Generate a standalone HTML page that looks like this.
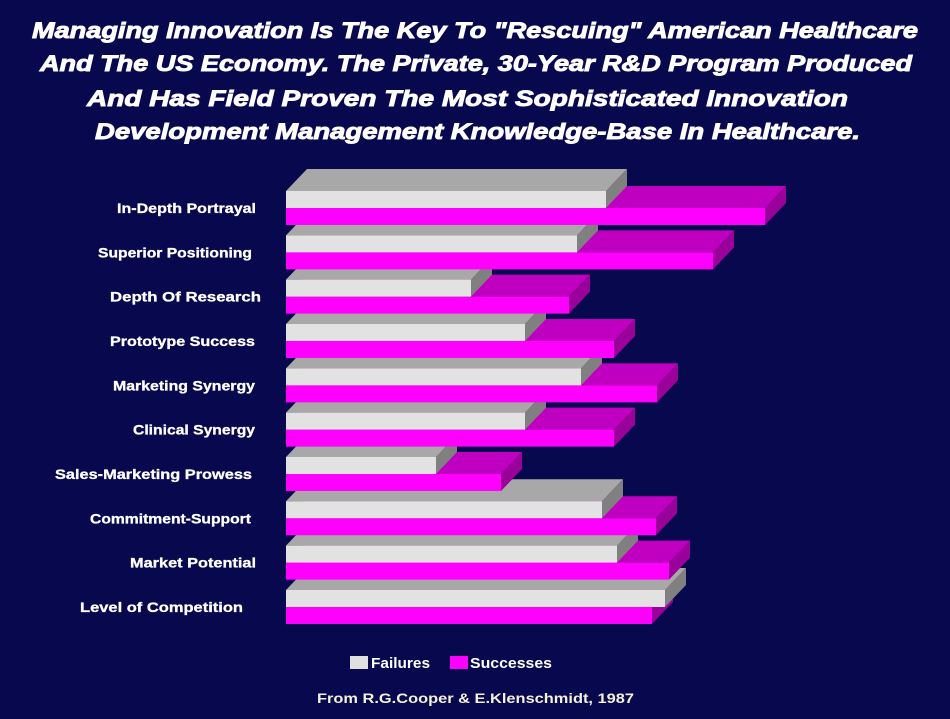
<!DOCTYPE html>
<html><head><meta charset="utf-8"><style>
html,body{margin:0;padding:0;background:#08084e;}
svg{display:block}
</style></head><body>
<svg width="950" height="719" viewBox="0 0 950 719" xmlns="http://www.w3.org/2000/svg">
<rect width="950" height="719" fill="#08084e"/>
<g font-family="Liberation Sans, Arial, sans-serif" font-weight="bold" font-style="italic" font-size="22" fill="#fff" stroke="#fff" stroke-width="0.9">
<text x="32" y="38" textLength="886" lengthAdjust="spacingAndGlyphs">Managing Innovation Is The Key To "Rescuing" American Healthcare</text>
<text x="40" y="71" textLength="872" lengthAdjust="spacingAndGlyphs">And The US Economy. The Private, 30-Year R&amp;D Program Produced</text>
<text x="87" y="106" textLength="761" lengthAdjust="spacingAndGlyphs">And Has Field Proven The Most Sophisticated Innovation</text>
<text x="95" y="139" textLength="765" lengthAdjust="spacingAndGlyphs">Development Management Knowledge-Base In Healthcare.</text>
</g>
<g id="bars"></g>
<g font-family="Liberation Sans, Arial, sans-serif" font-weight="bold" font-size="13.5" fill="#fff" stroke="#fff" stroke-width="0.3" id="labels"></g>
<rect x="350" y="656" width="18" height="13" fill="#e0e0e0"/>
<text x="371" y="668" font-family="Liberation Sans, Arial, sans-serif" font-weight="bold" font-size="15" fill="#fff" textLength="59" lengthAdjust="spacingAndGlyphs">Failures</text>
<rect x="450" y="656" width="18" height="13" fill="#ff00ff"/>
<text x="470" y="668" font-family="Liberation Sans, Arial, sans-serif" font-weight="bold" font-size="15" fill="#fff" textLength="82" lengthAdjust="spacingAndGlyphs">Successes</text>
<text x="317" y="703" font-family="Liberation Sans, Arial, sans-serif" font-weight="bold" font-size="14" fill="#f4f0dc" textLength="317" lengthAdjust="spacingAndGlyphs">From R.G.Cooper &amp; E.Klenschmidt, 1987</text>
<script>
var g=[606,577,471,525,581,525,436,602,617,665];
var m=[765,713,569,614,657,614,501,656,669,652];
var L=["In-Depth Portrayal","Superior Positioning","Depth Of Research","Prototype Success","Marketing Synergy","Clinical Synergy","Sales-Marketing Prowess","Commitment-Support","Market Potential","Level of Competition"];
var R=[256,252,261,255,255,255,252,251,256,243];
var S=[117,98,110,110,113,133,55,90,130,80];
var ns="http://www.w3.org/2000/svg",B=document.getElementById("bars"),T=document.getElementById("labels");
function poly(p,c){var e=document.createElementNS(ns,"polygon");e.setAttribute("points",p);e.setAttribute("fill",c);B.appendChild(e);}
function bar(x0,x1,y,h,f,t,s){var d=21,e=22;
poly(x0+","+y+" "+(x0+d)+","+(y-e)+" "+(x1+d)+","+(y-e)+" "+x1+","+y,t);
poly(x1+","+y+" "+(x1+d)+","+(y-e)+" "+(x1+d)+","+(y-e+h)+" "+x1+","+(y+h),s);
poly(x0+","+y+" "+x1+","+y+" "+x1+","+(y+h)+" "+x0+","+(y+h),f);}
for(var i=9;i>=0;i--){var y=191+44.33*i;
bar(286,m[i],y+17,17,"#ff00ff","#c000c0","#9a009a");
bar(286,g[i],y,17,"#e2e2e2","#a8a8a8","#808080");
var t=document.createElementNS(ns,"text");t.setAttribute("x",S[i]);t.setAttribute("y",y+22);t.setAttribute("textLength",R[i]-S[i]);t.setAttribute("lengthAdjust","spacingAndGlyphs");t.textContent=L[i];T.appendChild(t);}
</script>
</svg>
</body></html>
